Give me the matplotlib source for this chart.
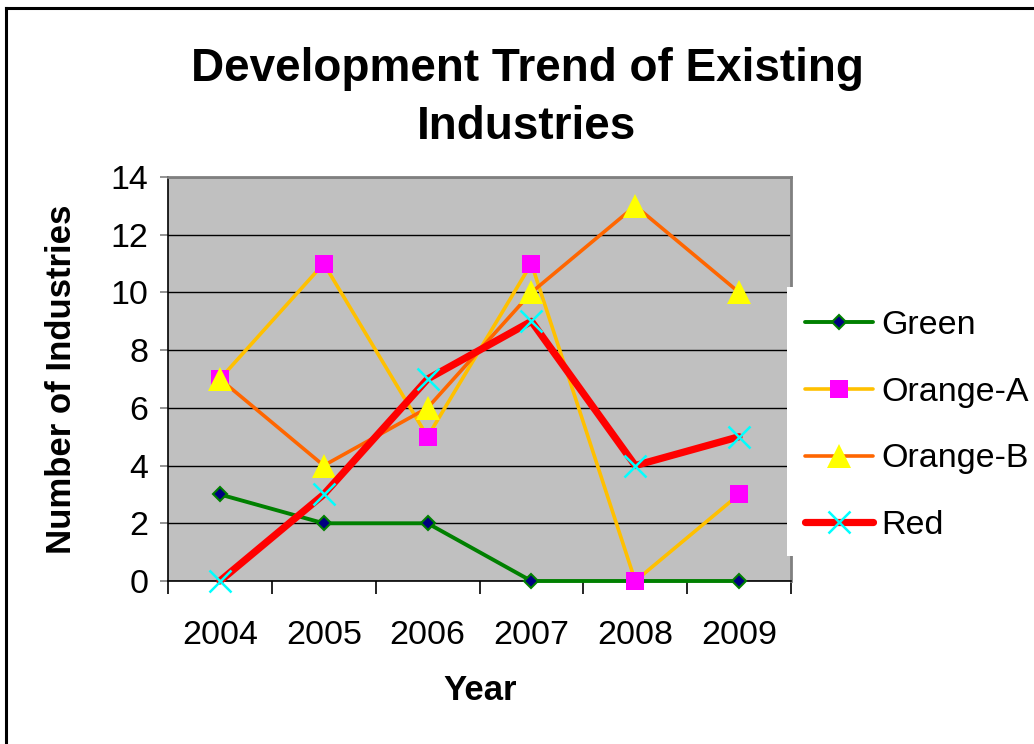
import matplotlib
matplotlib.use("Agg")
import matplotlib.pyplot as plt
from matplotlib.lines import Line2D
from matplotlib.patches import Rectangle

# Data
years = ["2004", "2005", "2006", "2007", "2008", "2009"]
green = [3, 2, 2, 0, 0, 0]
orange_a = [7, 11, 5, 11, 0, 3]
orange_b = [7, 4, 6, 10, 13, 10]
red = [0, 3, 7, 9, 4, 5]
series_names = ["Green", "Orange-A", "Orange-B", "Red"]
y_ticks = [0, 2, 4, 6, 8, 10, 12, 14]

W, H = 1034, 744
fig = plt.figure(figsize=(W / 100, H / 100), dpi=100)
fig.patch.set_facecolor("white")

def fx(px):
    return px / W

def fy(py):
    return 1 - py / H

ax = fig.add_axes([fx(168), fy(581), fx(791) - fx(168), fy(177) - fy(581)])
ax.set_facecolor("#C0C0C0")

x = list(range(len(years)))

styles = [
    dict(color="#008000", lw=2.8, marker="D", ms=7, mfc="#000080", mec="#008000", mew=1.5),
    dict(color="#FFC000", lw=2.6, marker="s", ms=13, mfc="#FF00FF", mec="#FF00FF", mew=0),
    dict(color="#FF6600", lw=2.6, marker="^", ms=17, mfc="#FFFF00", mec="#FFFF00", mew=0),
    dict(color="#FF0000", lw=5.2, marker="x", ms=16, mfc="#00FFFF", mec="#00FFFF", mew=1.8),
]
handles = []
for i, (vals, name, st) in enumerate(zip([green, orange_a, orange_b, red], series_names, styles)):
    h, = ax.plot(x, vals, label=name, zorder=3 + i, clip_on=False, solid_capstyle="round", **st)
    handles.append(h)

ax.set_xlim(-0.5, 5.5)
ax.set_ylim(0, 14)
ax.set_yticks(y_ticks)
ax.set_xticks(x)
ax.set_xticklabels(years)
ax.set_xticks([i - 0.5 for i in range(len(years) + 1)], minor=True)

ax.yaxis.grid(True, color="black", lw=1.0, zorder=1)
ax.set_axisbelow(True)

for s in ["left", "bottom"]:
    ax.spines[s].set_color("black")
    ax.spines[s].set_linewidth(1.2)
for s in ["top", "right"]:
    ax.spines[s].set_color("#808080")
    ax.spines[s].set_linewidth(2.0)

label_font = "Liberation Sans"
ax.tick_params(axis="y", direction="out", length=6, width=1.2, color="#808080",
               pad=8, labelsize=24.5)
ax.tick_params(axis="x", which="major", length=0, pad=28, labelsize=24.5)
ax.tick_params(axis="x", which="minor", direction="out", length=9, width=1.2, color="black")
for lab in ax.get_xticklabels() + ax.get_yticklabels():
    lab.set_fontfamily(label_font)

# Title and axis titles
fig.text(fx(527), fy(98), "Development Trend of Existing\nIndustries",
         ha="center", va="center", fontsize=33, fontweight="bold",
         family=label_font, linespacing=1.4)
fig.text(fx(480), fy(690), "Year", ha="center", va="center",
         fontsize=25, fontweight="bold", family=label_font)
fig.text(fx(62), fy(379), "Number of Industries", ha="center", va="center",
         rotation=90, fontsize=25, fontweight="bold", family=label_font)

# Legend panel
fig.patches.append(Rectangle((fx(787), fy(556)), 1 - fx(787) + 0.01, fy(287) - fy(556),
                             transform=fig.transFigure, facecolor="white",
                             edgecolor="none", zorder=2))
leg = fig.legend(handles=handles, labels=series_names, loc="upper left",
                 bbox_to_anchor=(fx(805), fy(310)), frameon=False,
                 prop=dict(family=label_font, size=24.5), handlelength=2.0,
                 handletextpad=0.25, labelspacing=1.05, borderpad=0,
                 borderaxespad=0, markerscale=1.0)
leg.set_zorder(3)

# Outer chart border
fig.lines.append(Line2D([fx(6), fx(6)], [0, fy(8)], transform=fig.transFigure,
                        color="black", lw=2.2))
fig.lines.append(Line2D([fx(6), 1], [fy(8), fy(8)], transform=fig.transFigure,
                        color="black", lw=2.2))

fig.savefig("out.png", dpi=100, facecolor="white")
